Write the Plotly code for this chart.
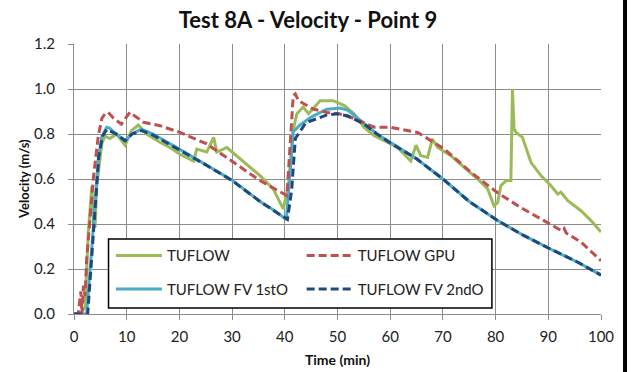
import plotly.graph_objects as go

# ---- data ----
t_tuflow = [0, 1.1, 2.1, 2.7, 3.4, 3.7, 4.0, 4.3, 5.3, 5.9, 6.8, 8.1, 9.7, 10.9, 12.2, 13.8, 16.3, 18.2, 20.1,
            22.7, 23.3, 25.2, 26.5, 27.1, 29, 31.5, 35.3, 37.8, 39.7, 40.7, 41.6, 42.3, 43.5, 44.5, 46.7, 49.2,
            51.3, 53.2, 55, 56.9, 58.9, 61.4, 63.9, 64.9, 65.8, 67.1, 68, 69, 71.5, 74, 76.6, 78.5, 79.7, 80.4,
            81, 82, 82.9, 83.2, 83.5, 83.9, 85.1, 86.7, 88.6, 90.5, 91.8, 92.4, 93.7, 96.2, 98.1, 100]
v_tuflow = [0, 0, 0.03, 0.36, 0.57, 0.39, 0.385, 0.57, 0.76, 0.79, 0.78, 0.80, 0.75, 0.815, 0.84, 0.80, 0.763,
            0.74, 0.71, 0.68, 0.733, 0.72, 0.785, 0.72, 0.74, 0.689, 0.615, 0.556, 0.467, 0.57, 0.82, 0.89, 0.92,
            0.89, 0.948, 0.948, 0.926, 0.889, 0.83, 0.793, 0.77, 0.74, 0.68, 0.75, 0.704, 0.696, 0.778, 0.74,
            0.704, 0.652, 0.60, 0.556, 0.481, 0.496, 0.57, 0.593, 0.593, 1.0, 0.822, 0.807, 0.785, 0.674, 0.615,
            0.57, 0.533, 0.541, 0.504, 0.459, 0.415, 0.364]

t_gpu = [0, 0.8, 1.3, 1.5, 1.8, 2.1, 2.4, 3.0, 3.7, 4.6, 5.3, 5.9, 6.5, 7.5, 9, 10.6, 11.5, 13.2, 16.3, 20.1,
         25.2, 30.3, 35.3, 40.4, 41.0, 41.6, 42.0, 42.6, 45.4, 48, 50.5, 53, 55, 57, 60, 65.2, 70.3, 75.3, 80.3,
         85, 90.3, 92.5, 93, 93.4, 96.3, 100]
v_gpu = [0, 0, 0.1, 0.0, 0.126, 0.08, 0.24, 0.42, 0.61, 0.79, 0.87, 0.89, 0.896, 0.87, 0.844, 0.896, 0.88, 0.852,
         0.837, 0.807, 0.756, 0.674, 0.593, 0.526, 0.75, 0.97, 0.978, 0.948, 0.911, 0.896, 0.889, 0.87, 0.85,
         0.83, 0.83, 0.807, 0.733, 0.63, 0.54, 0.47, 0.40, 0.37, 0.38, 0.36, 0.318, 0.237]

t_fv1 = [0, 2.4, 3.4, 4.0, 4.6, 5.3, 6.2, 6.8, 8, 9.7, 11, 12.8, 15, 20, 25, 30, 35.3, 38, 40.3, 41.0, 41.6,
         42.9, 45, 48, 50.5, 52, 55, 57.5, 60, 65, 70, 75, 80.4, 85.4, 90.3, 95.6, 100]
v_fv1 = [0, 0, 0.30, 0.51, 0.69, 0.79, 0.83, 0.825, 0.80, 0.77, 0.80, 0.822, 0.80, 0.733, 0.665, 0.595, 0.50,
         0.46, 0.42, 0.62, 0.81, 0.84, 0.875, 0.91, 0.915, 0.905, 0.85, 0.80, 0.763, 0.69, 0.60, 0.50, 0.415,
         0.348, 0.29, 0.23, 0.173]

t_fv2 = [0, 2.6, 3.5, 4.1, 4.7, 5.4, 6.2, 8, 9.7, 11, 12.8, 15, 20, 25, 30, 35.3, 38, 40.5, 41.3, 42, 44, 48,
         50, 52, 55, 57.5, 60, 65, 70, 75, 80.4, 85.4, 90.3, 95.6, 100]
v_fv2 = [0, 0, 0.30, 0.52, 0.70, 0.79, 0.82, 0.80, 0.77, 0.80, 0.815, 0.795, 0.73, 0.663, 0.593, 0.50, 0.458,
         0.42, 0.55, 0.78, 0.85, 0.885, 0.89, 0.88, 0.845, 0.80, 0.76, 0.69, 0.60, 0.50, 0.415, 0.348, 0.29,
         0.23, 0.173]

x_ticks = [0, 10, 20, 30, 40, 50, 60, 70, 80, 90, 100]
y_ticks = [0.0, 0.2, 0.4, 0.6, 0.8, 1.0, 1.2]

FONT = "Lato"
GRID = "#8c8c8c"

fig = go.Figure()
fig.add_trace(go.Scatter(x=t_tuflow, y=v_tuflow, mode="lines", name="TUFLOW",
                         line=dict(color="#9BBB59", width=3), legend="legend", legendgroup="a"))
fig.add_trace(go.Scatter(x=t_fv1, y=v_fv1, mode="lines", name="TUFLOW FV 1stO",
                         line=dict(color="#4BACC6", width=3), legend="legend", legendgroup="b"))
fig.add_trace(go.Scatter(x=t_gpu, y=v_gpu, mode="lines", name="TUFLOW GPU",
                         line=dict(color="#C0504D", width=3, dash="8px,4px"), legend="legend2", legendgroup="c"))
fig.add_trace(go.Scatter(x=t_fv2, y=v_fv2, mode="lines", name="TUFLOW FV 2ndO",
                         line=dict(color="#1F497D", width=3, dash="8px,4px"), legend="legend2", legendgroup="d"))

legend_common = dict(font=dict(family=FONT, size=15, color="#222"), bgcolor="rgba(0,0,0,0)",
                     borderwidth=0, tracegroupgap=11, itemwidth=46, xanchor="left", yanchor="top",
                     orientation="v")
fig.update_layout(
    width=632, height=372,
    margin=dict(l=74, r=31, t=44, b=58, autoexpand=False),
    paper_bgcolor="white", plot_bgcolor="white",
    font=dict(family=FONT, color="#222"),
    showlegend=True,
    title=dict(text="<b>Test 8A - Velocity - Point 9</b>", x=308 / 632, xref="container", xanchor="center",
               y=1 - 20 / 372, yref="container", yanchor="middle",
               font=dict(family=FONT, size=22, color="#111")),
    legend=dict(x=0.07, y=0.277, **legend_common),
    legend2=dict(x=0.432, y=0.277, **legend_common),
    xaxis=dict(range=[0, 100], tickvals=x_ticks, ticktext=[str(v) for v in x_ticks], automargin=False,
               showgrid=True, gridcolor=GRID, gridwidth=1, showline=True, linecolor=GRID, linewidth=1,
               ticks="outside", ticklen=5, tickcolor=GRID, zeroline=False, ticklabelstandoff=4,
               tickfont=dict(family=FONT, size=15, color="#222"),
               title=dict(text="<b>Time (min)</b>", font=dict(family=FONT, size=14, color="#111"), standoff=11)),
    yaxis=dict(range=[0, 1.2], tickvals=y_ticks, ticktext=[f"{v:.1f}" for v in y_ticks], automargin=False,
               showgrid=True, gridcolor=GRID, gridwidth=1, showline=True, linecolor=GRID, linewidth=1,
               ticks="outside", ticklen=5, tickcolor=GRID, zeroline=False, ticklabelstandoff=10,
               tickfont=dict(family=FONT, size=15, color="#222")),
)

# y-axis title as rotated text
fig.add_annotation(text="<b>Velocity (m/s)</b>", xref="paper", yref="paper", x=(24 - 74) / 527, y=0.5,
                   xanchor="center", yanchor="middle", textangle=-90, showarrow=False,
                   font=dict(family=FONT, size=13, color="#111"))

# legend frame
fig.add_shape(type="rect", xref="paper", yref="paper", x0=0.0655, x1=0.793, y0=0.022, y1=0.278,
              line=dict(color="black", width=1.5), fillcolor="white", layer="above")
# right border of the chart area
fig.add_shape(type="line", xref="paper", yref="paper", x0=1.0456, x1=1.0456, y0=-0.22, y1=1.17,
              line=dict(color="black", width=4), layer="above")

fig.write_html("out.html", config={"displayModeBar": False},
               post_script="document.body.style.margin='0';document.body.style.padding='0';")
